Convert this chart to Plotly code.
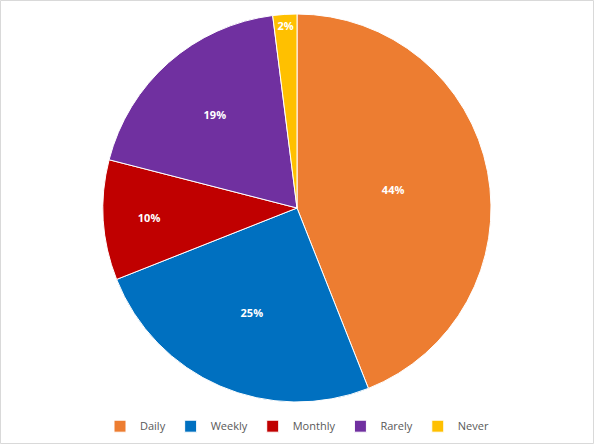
import plotly.graph_objects as go

categories = ["Daily", "Weekly", "Monthly", "Rarely", "Never"]
values = [44, 25, 10, 19, 2]
colors = ["#ED7D31", "#0070C0", "#C00000", "#7030A0", "#FFC000"]

W, H = 594, 444
ML, MR, MT, MB = 0, 0, 14, 42
PW, PH = W - ML - MR, H - MT - MB

fig = go.Figure(go.Pie(
    labels=categories,
    values=values,
    sort=False,
    direction="clockwise",
    rotation=0,
    marker=dict(colors=colors, line=dict(color="white", width=1)),
    texttemplate="<b>%{percent:.0%}</b>",
    textposition="inside",
    insidetextorientation="horizontal",
    textfont=dict(color="white", size=11, family="Open Sans"),
    hoverinfo="label+percent",
))

fig.update_layout(
    width=W, height=H,
    margin=dict(l=ML, r=MR, t=MT, b=MB),
    paper_bgcolor="white",
    showlegend=True,
    legend=dict(orientation="h", x=0.5, xanchor="center", y=-0.025, yanchor="top",
                font=dict(family="Open Sans", size=11, color="#595959"),
                itemwidth=30, traceorder="normal"),
    font=dict(family="Open Sans"),
)
fig.add_shape(type="rect", xref="paper", yref="paper",
              x0=(-ML + 0.5) / PW, y0=(-MB + 0.5) / PH,
              x1=1 + (MR - 0.5) / PW, y1=1 + (MT - 0.5) / PH,
              line=dict(color="#D9D9D9", width=1))

fig.write_html("out.html",
               config={"displayModeBar": False},
               post_script="document.body.style.margin='0';document.body.style.overflow='hidden';")
